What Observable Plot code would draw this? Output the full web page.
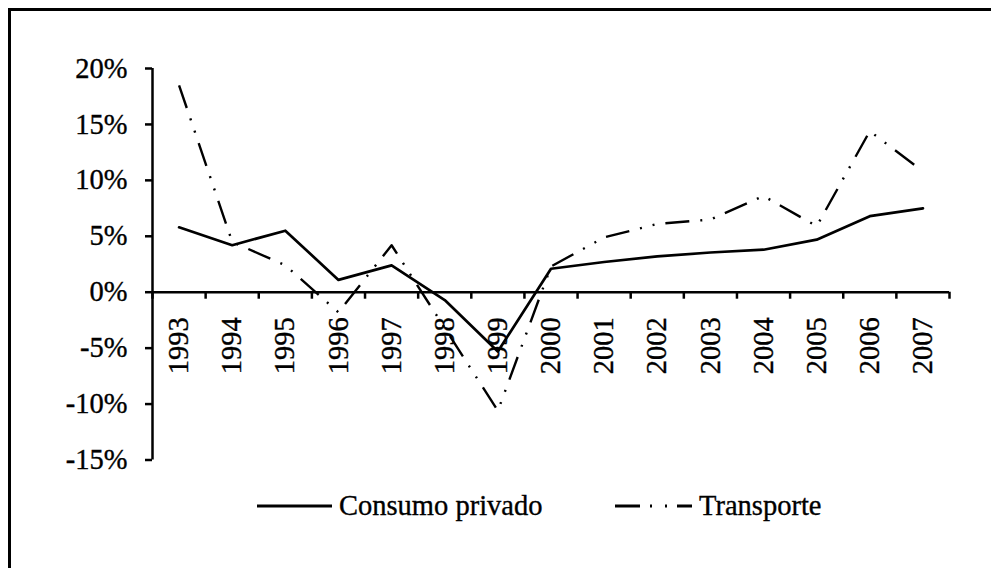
<!DOCTYPE html>
<html>
<head>
<meta charset="utf-8">
<script src="https://cdn.jsdelivr.net/npm/d3@7"></script>
<script src="https://cdn.jsdelivr.net/npm/@observablehq/plot@0.6"></script>
<style>
  html, body { margin: 0; padding: 0; background: #fff; }
  #wrap { position: relative; width: 991px; height: 568px; overflow: hidden; font-family: "Liberation Serif", "Times New Roman", serif; }
  #border { position: absolute; left: 8px; top: 8px; right: -10px; bottom: -10px; border-left: 3px solid #000; border-top: 3px solid #000; }
  #chart { position: absolute; left: 0; top: 0; }
  #chart svg text { stroke: #000; stroke-width: 0.35px; }
  #legend { position: absolute; left: 0; top: 480px; width: 991px; height: 52px; }
  .item { position: absolute; top: 0; height: 52px; display: flex; align-items: center; font-size: 28.5px; color: #000; -webkit-text-stroke: 0.35px #000; }
  .item svg { display: block; margin-right: 7px; }
</style>
</head>
<body>
<div id="wrap">
  <div id="border"></div>
  <div id="chart"></div>
  <div id="legend"></div>
</div>
<script>
// ---- data ----
const years = [1993, 1994, 1995, 1996, 1997, 1998, 1999, 2000, 2001, 2002, 2003, 2004, 2005, 2006, 2007];
const consumoPrivado = [5.8, 4.2, 5.5, 1.1, 2.4, -0.7, -5.3, 2.1, 2.7, 3.2, 3.55, 3.8, 4.7, 6.8, 7.5];
const transporte = [18.5, 4.5, 2.4, -1.8, 4.2, -3.2, -10.6, 2.3, 4.9, 6.1, 6.5, 8.6, 5.9, 14.4, 10.8];
const yTicks = [-15, -10, -5, 0, 5, 10, 15, 20];
const seriesNames = ["Consumo privado", "Transporte"];

const dashPattern = "24,11,2,11,2,11";
const xBoundaries = years.map(y => y - 0.5).concat([years[years.length - 1] + 0.5]);
const xDomain = [xBoundaries[0], xBoundaries[xBoundaries.length - 1]];

const chart = Plot.plot({
  width: 991,
  height: 480,
  marginLeft: 152,
  marginRight: 42,
  marginTop: 68,
  marginBottom: 20.5,
  style: { fontFamily: "Liberation Serif, Times New Roman, serif", background: "transparent", color: "#000" },
  x: { type: "linear", domain: xDomain, axis: null },
  y: { domain: [yTicks[0], yTicks[yTicks.length - 1]], axis: null },
  marks: [
    Plot.axisY(yTicks, { tickSize: 7, tickPadding: 18, tickFormat: d => d + "%", fontSize: 28.5, strokeWidth: 2.5, label: null }),
    Plot.ruleX([xDomain[0]], { stroke: "#000", strokeWidth: 2.5 }),
    Plot.ruleY([0], { stroke: "#000", strokeWidth: 2.5 }),
    Plot.ruleX(xBoundaries, { x: d => d, y1: 0, y2: 0, insetBottom: -7, stroke: "#000", strokeWidth: 2.5 }),
    Plot.text(years, { x: d => d, y: 0, text: d => String(d), rotate: -90, textAnchor: "end", lineAnchor: "middle", dy: 25, fontSize: 28.5, fill: "#000" }),
    Plot.line(years, { x: d => d, y: (d, i) => transporte[i], stroke: "#000", strokeWidth: 2.4, strokeDasharray: dashPattern, strokeLinecap: "butt" }),
    Plot.line(years, { x: d => d, y: (d, i) => consumoPrivado[i], stroke: "#000", strokeWidth: 2.7 })
  ]
});
document.getElementById("chart").appendChild(chart);

// ---- legend ----
const legend = document.getElementById("legend");
const items = [
  { name: seriesNames[0], left: 257, dash: null, w: 75 },
  { name: seriesNames[1], left: 615, dash: "25,10,2,13,2,10", w: 77 }
];
items.forEach(it => {
  const div = document.createElement("div");
  div.className = "item";
  div.style.left = it.left + "px";
  const ns = "http://www.w3.org/2000/svg";
  const s = document.createElementNS(ns, "svg");
  s.setAttribute("width", it.w);
  s.setAttribute("height", 8);
  const l = document.createElementNS(ns, "line");
  l.setAttribute("x1", 0); l.setAttribute("x2", it.w);
  l.setAttribute("y1", 4); l.setAttribute("y2", 4);
  l.setAttribute("stroke", "#000");
  l.setAttribute("stroke-width", 3);
  if (it.dash) l.setAttribute("stroke-dasharray", it.dash);
  s.appendChild(l);
  div.appendChild(s);
  const t = document.createElement("span");
  t.textContent = it.name;
  div.appendChild(t);
  legend.appendChild(div);
});
</script>
</body>
</html>
